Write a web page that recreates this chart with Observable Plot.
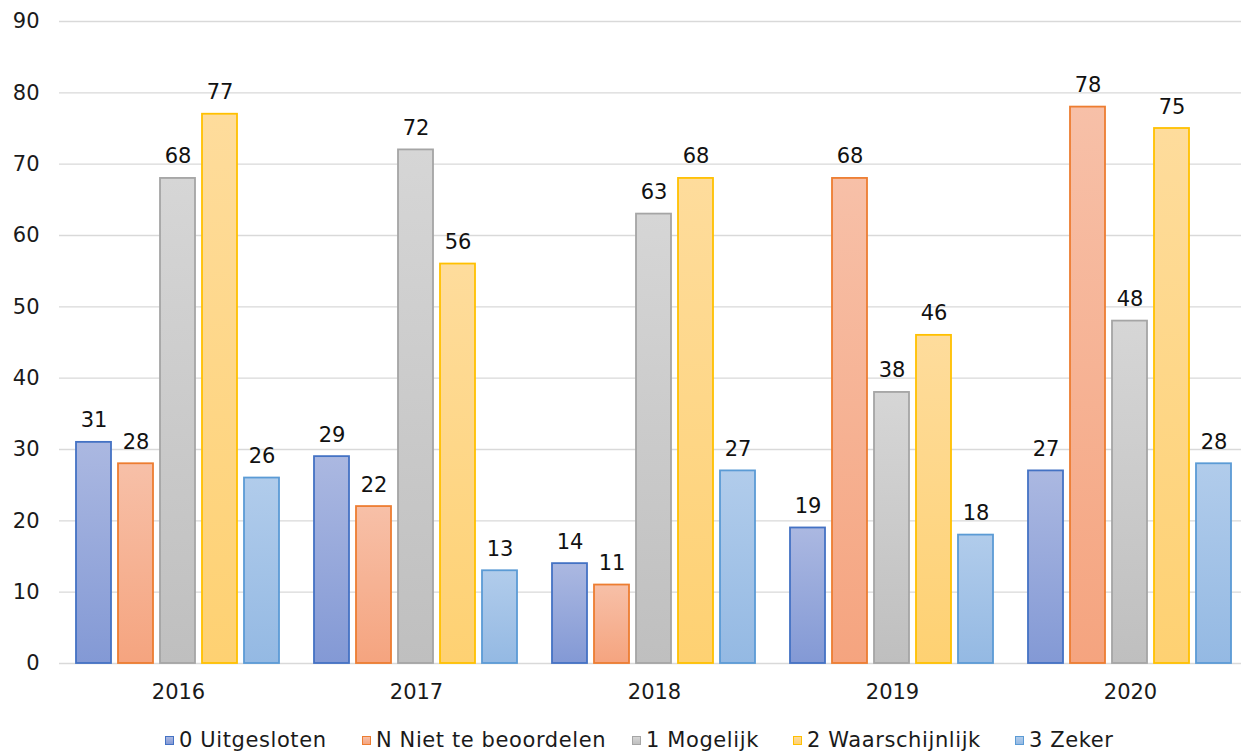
<!DOCTYPE html>
<html>
<head>
<meta charset="utf-8">
<script src="https://cdn.jsdelivr.net/npm/d3@7"></script>
<script src="https://cdn.jsdelivr.net/npm/@observablehq/plot@0.6"></script>
<style>
  body { margin: 0; background: #fff; font-family: "DejaVu Sans", Verdana, sans-serif; }
  #chart svg { display: block; }
  .legend { position: relative; height: 33px; font-size: 21px; letter-spacing: 0.6px; color: #1a1a1a; }
  .legend .item { position: absolute; top: 10px; display: flex; align-items: center; height: 24px; line-height: 24px; white-space: nowrap; }
  .legend .swatch { width: 9px; height: 9px; margin-right: 5px; box-sizing: border-box; border: 1.5px solid; }
</style>
</head>
<body>
<div id="chart"></div>
<div class="legend" id="legend"></div>
<script>
// Categories and series
const years = ["2016", "2017", "2018", "2019", "2020"];
const seriesNames = ["0 Uitgesloten", "N Niet te beoordelen", "1 Mogelijk", "2 Waarschijnlijk", "3 Zeker"];

// Counts per year, one array per series
const uitgesloten      = [31, 29, 14, 19, 27];
const nietTeBeoordelen = [28, 22, 11, 68, 78];
const mogelijk         = [68, 72, 63, 38, 48];
const waarschijnlijk   = [77, 56, 68, 46, 75];
const zeker            = [26, 13, 27, 18, 28];

const yTicks = [0, 10, 20, 30, 40, 50, 60, 70, 80, 90];

// Palette: outline colour plus a light-to-dark vertical gradient per series
const strokeColors = ["#4472c4", "#ed7d31", "#a5a5a5", "#ffc000", "#5b9bd5"];
const gradTop      = ["#abb8e1", "#f7c0a8", "#d6d6d6", "#fedc9c", "#b1cceb"];
const gradBottom   = ["#8399d5", "#f5a47f", "#bfbfbf", "#fed172", "#94b9e3"];

const seriesValues = [uitgesloten, nietTeBeoordelen, mogelijk, waarschijnlijk, zeker];
const table = [];
years.forEach((year, yi) => {
  seriesNames.forEach((s, si) => {
    table.push({year, series: s, si, value: seriesValues[si][yi]});
  });
});

const font = "DejaVu Sans, Verdana, sans-serif";

const plot = Plot.plot({
  width: 1241,
  height: 718,
  marginLeft: 57,
  marginRight: -9,
  marginTop: 21,
  marginBottom: 55,
  style: {fontFamily: font, fontSize: "21px", color: "#1a1a1a", background: "#fff"},
  fx: {domain: years, padding: 0, axis: "bottom", tickSize: 0, tickPadding: 21, label: null},
  x: {domain: seriesNames, paddingInner: 0.16, paddingOuter: 0.38, axis: null},
  y: {domain: [0, 90], ticks: yTicks, tickSize: 0, tickPadding: 20, label: null, tickFormat: d => String(d)},
  marks: [
    Plot.ruleY(yTicks, {stroke: "#d9d9d9", strokeWidth: 1.4}),
    ...seriesNames.map((s, i) =>
      Plot.barY(table.filter(d => d.si === i), {
        fx: "year", x: "series", y: "value",
        fill: `url(#grad-${i})`,
        stroke: strokeColors[i],
        strokeWidth: 1.8
      })
    ),
    Plot.text(table, {
      fx: "year", x: "series", y: "value",
      text: d => String(d.value),
      lineAnchor: "bottom", dy: -15,
      fontSize: 21, fill: "#111"
    })
  ]
});

// Gradient definitions referenced by the bars
const defs = d3.select(plot).insert("defs", ":first-child");
seriesNames.forEach((s, i) => {
  const g = defs.append("linearGradient")
    .attr("id", `grad-${i}`)
    .attr("x1", 0).attr("y1", 0).attr("x2", 0).attr("y2", 1);
  g.append("stop").attr("offset", "0%").attr("stop-color", gradTop[i]);
  g.append("stop").attr("offset", "100%").attr("stop-color", gradBottom[i]);
});

document.getElementById("chart").appendChild(plot);

// Legend below the chart
const legendLeft = [165, 362, 632, 793, 1015];
const legend = d3.select("#legend");
seriesNames.forEach((s, i) => {
  const item = legend.append("div").attr("class", "item").style("left", legendLeft[i] + "px");
  item.append("div").attr("class", "swatch")
    .style("border-color", strokeColors[i])
    .style("background", `linear-gradient(${gradTop[i]}, ${gradBottom[i]})`);
  item.append("span").text(s);
});
</script>
</body>
</html>
